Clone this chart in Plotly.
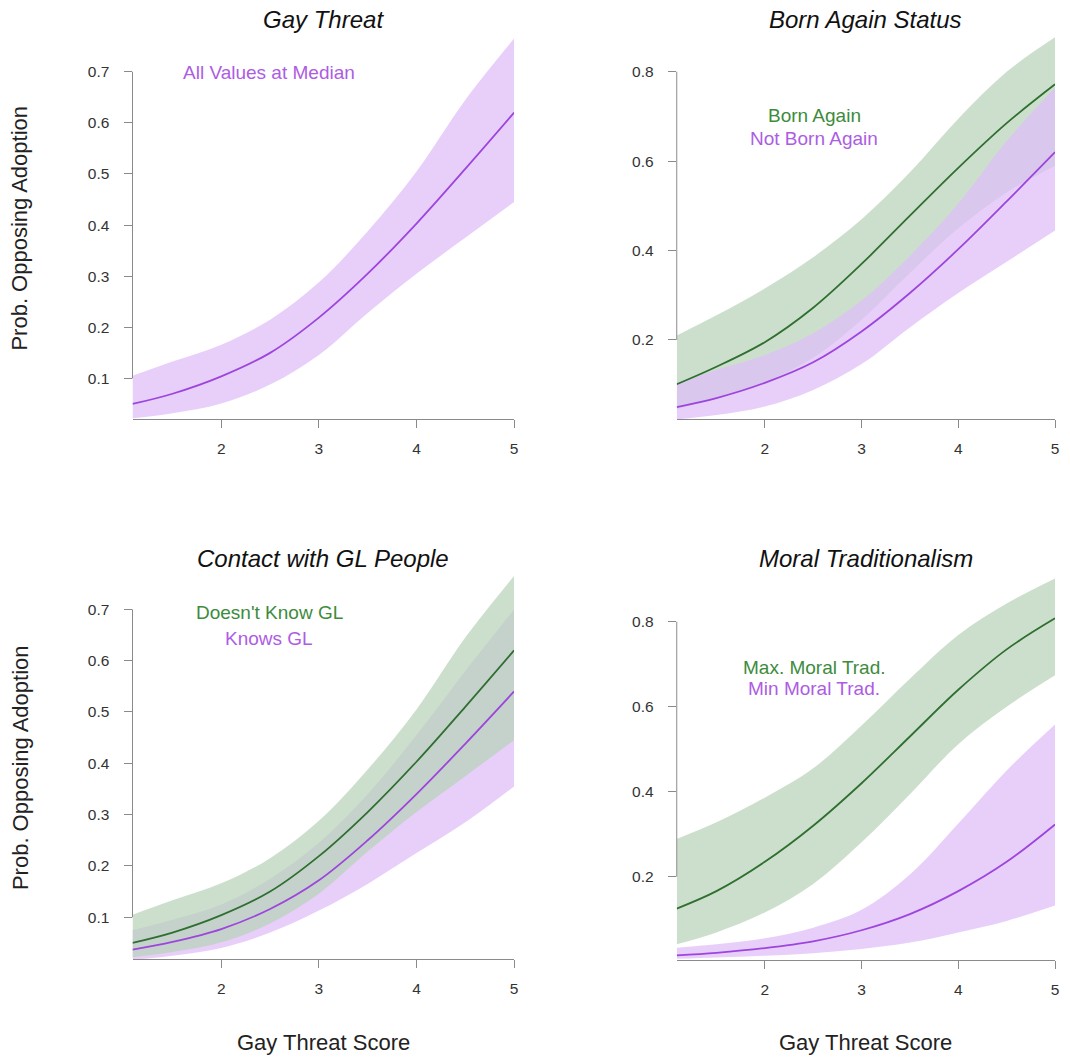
import plotly.graph_objects as go

# ---------------- data ----------------
gay_threat = [1.09, 1.5, 2.0, 2.5, 3.0, 3.5, 4.0, 4.5, 5.0]

# All values at median (also "Not Born Again" and "Doesn't Know GL")
median_fit = [0.050, 0.070, 0.104, 0.150, 0.219, 0.305, 0.403, 0.510, 0.620]
median_hi = [0.105, 0.133, 0.166, 0.215, 0.288, 0.388, 0.505, 0.645, 0.765]
median_lo = [0.022, 0.032, 0.051, 0.088, 0.146, 0.228, 0.305, 0.375, 0.445]

# Born Again
born_fit = [0.101, 0.140, 0.195, 0.272, 0.370, 0.478, 0.585, 0.685, 0.772]
born_hi = [0.210, 0.255, 0.315, 0.385, 0.470, 0.575, 0.695, 0.800, 0.877]
born_lo = [0.045, 0.070, 0.105, 0.160, 0.245, 0.350, 0.450, 0.530, 0.590]

# Knows GL
knows_fit = [0.037, 0.052, 0.077, 0.116, 0.172, 0.250, 0.340, 0.438, 0.540]
knows_hi = [0.075, 0.095, 0.125, 0.175, 0.245, 0.340, 0.455, 0.580, 0.700]
knows_lo = [0.017, 0.025, 0.040, 0.070, 0.113, 0.165, 0.225, 0.285, 0.355]

# Moral traditionalism
maxmt_fit = [0.125, 0.166, 0.235, 0.320, 0.420, 0.530, 0.640, 0.735, 0.808]
maxmt_hi = [0.289, 0.328, 0.386, 0.455, 0.556, 0.666, 0.769, 0.843, 0.902]
maxmt_lo = [0.041, 0.069, 0.116, 0.183, 0.281, 0.394, 0.512, 0.600, 0.674]
minmt_fit = [0.015, 0.021, 0.032, 0.048, 0.074, 0.112, 0.166, 0.235, 0.323]
minmt_hi = [0.033, 0.041, 0.055, 0.080, 0.122, 0.205, 0.325, 0.450, 0.558]
minmt_lo = [0.007, 0.010, 0.014, 0.020, 0.030, 0.045, 0.069, 0.096, 0.132]

x_ticks = [2, 3, 4, 5]
y_ticks_a = [0.1, 0.2, 0.3, 0.4, 0.5, 0.6, 0.7]
y_ticks_b = [0.2, 0.4, 0.6, 0.8]

titles = ["Gay Threat", "Born Again Status", "Contact with GL People", "Moral Traditionalism"]
y_title = "Prob. Opposing Adoption"
x_title = "Gay Threat Score"

# ---------------- styling ----------------
W, H = 1070, 1057
PURPLE_LINE = "#9d45dc"
PURPLE_FILL = "rgba(223,190,248,0.74)"
PURPLE_TEXT = "#ad5ce4"
GREEN_LINE = "#2f6f30"
GREEN_FILL = "rgba(184,210,184,0.72)"
GREEN_TEXT = "#3d8b3d"
AXIS_COL = "#8a8a8a"
FONT = "Liberation Sans, Arial, sans-serif"


def px_x(p):
    return p / W


def px_y(p):
    return 1 - p / H


panels = [
    dict(x0=133, x1=516, top=36, bot=419.3, yr=[0.02, 0.77], yt=y_ticks_a),
    dict(x0=679.3, x1=1059, top=36, bot=419.3, yr=[0.0225, 0.88], yt=y_ticks_b),
    dict(x0=133, x1=516, top=575, bot=959.3, yr=[0.018, 0.767], yt=y_ticks_a),
    dict(x0=679.3, x1=1059, top=575, bot=960, yr=[0.004, 0.91], yt=y_ticks_b),
]

fig = go.Figure()
layout = dict(
    width=W, height=H, margin=dict(l=0, r=0, t=0, b=0),
    plot_bgcolor="white", paper_bgcolor="white", showlegend=False,
    font=dict(family=FONT, color="#222"),
)
shapes = []
annotations = []

for i, p in enumerate(panels):
    n = "" if i == 0 else str(i + 1)
    layout["xaxis" + n] = dict(
        domain=[px_x(p["x0"]), px_x(p["x1"])], anchor="y" + n,
        range=[gay_threat[0], gay_threat[-1]], tickvals=x_ticks,
        ticks="outside", ticklen=8, tickcolor=AXIS_COL, tickwidth=1,
        showline=True, linecolor=AXIS_COL, linewidth=1,
        showgrid=False, zeroline=False, ticklabelstandoff=7,
        tickfont=dict(size=15.5, color="#333", family=FONT),
    )
    layout["yaxis" + n] = dict(
        domain=[px_y(p["bot"]), px_y(p["top"])], anchor="x" + n,
        range=p["yr"], tickvals=p["yt"], ticktext=[f"{v:.1f}" for v in p["yt"]],
        ticks="outside", ticklen=8, tickcolor=AXIS_COL, tickwidth=1,
        showline=False, showgrid=False, zeroline=False, ticklabelstandoff=11,
        tickfont=dict(size=15.5, color="#333", family=FONT),
    )
    shapes.append(dict(type="line", xref="x" + n + " domain", yref="y" + n,
                       x0=0, x1=0, y0=p["yt"][0], y1=p["yt"][-1],
                       line=dict(color=AXIS_COL, width=1)))
    annotations.append(dict(
        text="<i>" + titles[i] + "</i>", xref="paper", yref="paper",
        x=px_x((p["x0"] + p["x1"]) / 2), y=px_y(p["top"] - 17),
        showarrow=False, xanchor="center", yanchor="middle",
        font=dict(size=24, family=FONT, color="#111"),
    ))
    if i in (0, 2):
        annotations.append(dict(
            text=y_title, xref="paper", yref="paper", textangle=-90,
            x=px_x(20), y=px_y((p["top"] + p["bot"]) / 2),
            showarrow=False, xanchor="center", yanchor="middle",
            font=dict(size=22, family=FONT, color="#222"),
        ))
    if i in (2, 3):
        annotations.append(dict(
            text=x_title, xref="paper", yref="paper",
            x=px_x((p["x0"] + p["x1"]) / 2), y=px_y(1042),
            showarrow=False, xanchor="center", yanchor="middle",
            font=dict(size=22, family=FONT, color="#222"),
        ))


def add_band(axn, lo, hi, fill):
    xa = "x" + axn
    ya = "y" + axn
    fig.add_trace(go.Scatter(x=gay_threat, y=lo, mode="lines", line=dict(width=0, shape="spline"),
                             xaxis=xa, yaxis=ya, hoverinfo="skip"))
    fig.add_trace(go.Scatter(x=gay_threat, y=hi, mode="lines", line=dict(width=0, shape="spline"),
                             fill="tonexty", fillcolor=fill, xaxis=xa, yaxis=ya, hoverinfo="skip"))


def add_line(axn, fit, color):
    fig.add_trace(go.Scatter(x=gay_threat, y=fit, mode="lines",
                             line=dict(width=1.8, color=color, shape="spline"),
                             xaxis="x" + axn, yaxis="y" + axn))


# Panel 1
add_band("", median_lo, median_hi, PURPLE_FILL)
# Panel 2: green then purple on top
add_band("2", born_lo, born_hi, GREEN_FILL)
add_band("2", median_lo, median_hi, PURPLE_FILL)
# Panel 3: purple then green on top
add_band("3", knows_lo, knows_hi, PURPLE_FILL)
add_band("3", median_lo, median_hi, GREEN_FILL)
# Panel 4
add_band("4", maxmt_lo, maxmt_hi, GREEN_FILL)
add_band("4", minmt_lo, minmt_hi, PURPLE_FILL)

add_line("", median_fit, PURPLE_LINE)
add_line("2", born_fit, GREEN_LINE)
add_line("2", median_fit, PURPLE_LINE)
add_line("3", median_fit, GREEN_LINE)
add_line("3", knows_fit, PURPLE_LINE)
add_line("4", maxmt_fit, GREEN_LINE)
add_line("4", minmt_fit, PURPLE_LINE)

# in-plot legend texts (data coordinates)
legend_items = [
    ("", 2.49, 0.698, "All Values at Median", PURPLE_TEXT),
    ("2", 2.51, 0.702, "Born Again", GREEN_TEXT),
    ("2", 2.51, 0.650, "Not Born Again", PURPLE_TEXT),
    ("3", 2.49, 0.693, "Doesn't Know GL", GREEN_TEXT),
    ("3", 2.49, 0.643, "Knows GL", PURPLE_TEXT),
    ("4", 2.51, 0.693, "Max. Moral Trad.", GREEN_TEXT),
    ("4", 2.51, 0.644, "Min Moral Trad.", PURPLE_TEXT),
]
for axn, lx, ly, txt, col in legend_items:
    annotations.append(dict(text=txt, xref="x" + axn, yref="y" + axn, x=lx, y=ly,
                            showarrow=False, xanchor="center", yanchor="middle",
                            font=dict(size=19, family=FONT, color=col)))

layout["shapes"] = shapes
layout["annotations"] = annotations
fig.update_layout(**layout)
fig.write_html("out.html")
